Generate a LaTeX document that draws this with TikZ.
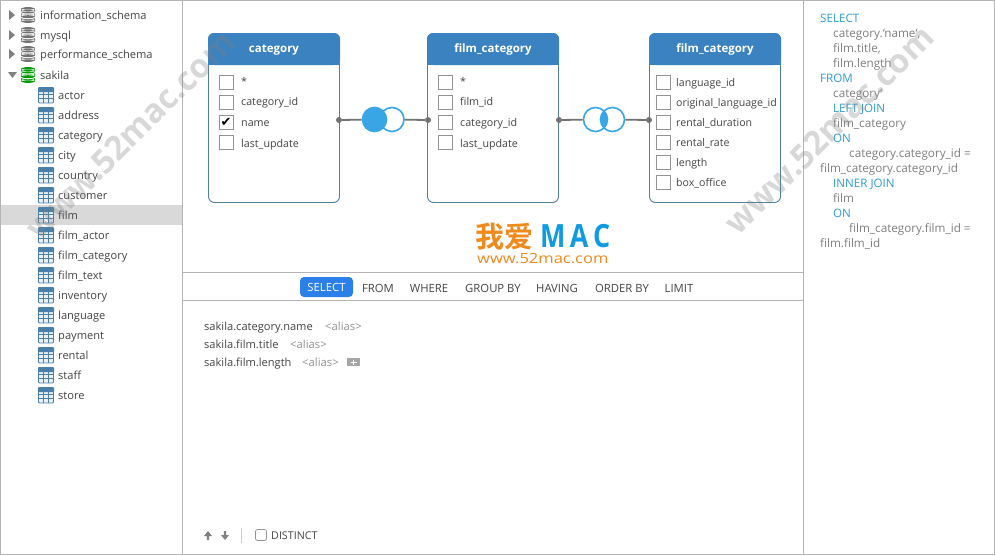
\documentclass[tikz,border=0pt]{standalone}
\usepackage{fontspec}
\setmainfont{Open Sans}
\newfontfamily\cjk{Noto Sans CJK SC}[BoldFont={* Bold}]
\newfontfamily\symb{DejaVu Sans}
\usetikzlibrary{positioning}
\definecolor{panelline}{HTML}{B4B4B4}
\definecolor{inktext}{HTML}{444444}
\definecolor{headblue}{HTML}{3A82C0}
\definecolor{boxedge}{HTML}{4F8199}
\definecolor{joinblue}{HTML}{38A5E4}
\definecolor{sqlblue}{HTML}{2F9BD0}
\definecolor{sqlgray}{HTML}{808080}
\definecolor{iconblue}{HTML}{4A80A8}
\definecolor{logoorange}{HTML}{EE8A1E}
\definecolor{logoblue}{HTML}{0F9BE0}
\definecolor{btnblue}{HTML}{2A7FE8}
\tikzset{
  txt/.style={inner sep=0pt,anchor=base west,text=inktext,font=\fontsize{11.1}{13}\selectfont},
  col/.style={txt,font=\fontsize{10.7}{13}\selectfont},
  sqlword/.style={txt,text=sqlblue,font=\fontsize{11.6}{13}\selectfont},
  sqlplain/.style={txt,text=sqlgray,font=\fontsize{11.7}{13}\selectfont},
  alias/.style={txt,text=gray!85,font=\fontsize{11.3}{13}\selectfont},
  clause/.style={inner sep=0pt,anchor=base,text=inktext,font=\fontsize{11.3}{13}\selectfont},
  tablebox/.style={draw=boxedge,fill=white,rounded corners=6pt,line width=0.9pt},
  tablehead/.style={inner sep=0pt,anchor=base,text=white,font=\fontsize{11.5}{13}\selectfont\bfseries},
  tick/.style={draw=gray!85,fill=white,minimum size=14pt,inner sep=0pt,line width=0.7pt},
  pin/.style={circle,fill=gray!90!black,inner sep=0pt,minimum size=6pt},
  venn/.style={circle,draw=joinblue,fill=white,line width=1.6pt,minimum size=24pt,inner sep=0pt},
  joinline/.style={line width=1.8pt,draw=gray!90!black},
  mark52/.style={inner sep=0pt,rotate=45,text=gray,text opacity=0.3,font=\fontsize{33}{36}\selectfont\bfseries},
  dbicon/.pic={
    \foreach \k in {4.7,0,-4.7}{
      \fill[white] (0,\k+1.2) ellipse (7.8 and 3.1);
      \fill[pic actions] (-7,\k-1.2) rectangle (7,\k+1.2) (0,\k+1.2) ellipse (7 and 2) (0,\k-1.2) ellipse (7 and 2);
    }
  },
  gridicon/.pic={
    \fill[iconblue!12] (-7.5,-7) rectangle (7.5,8);
    \fill[iconblue,rounded corners=1pt] (-8,-8) rectangle (8,-3);
    \draw[iconblue,line width=0.8pt,rounded corners=1pt] (-7.5,-7.5) rectangle (7.5,8);
    \draw[iconblue,line width=0.6pt] (-7.5,-0.5)--(7.5,-0.5) (-7.5,3.5)--(7.5,3.5) (-2.5,-3)--(-2.5,8) (2.5,-3)--(2.5,8);
  },
}
\begin{document}
\begin{tikzpicture}[x=1pt,y=-1pt]
\useasboundingbox (0,0) rectangle (995,555);
\fill[white] (0,0) rectangle (995,555);
% panels
\fill[gray!30] (1,205) rectangle (182,225);
\draw[panelline] (0.5,0.5) rectangle (994.5,554.5);
\draw[panelline] (182.5,0)--(182.5,555) (803.5,0)--(803.5,555);
\draw[panelline] (183,272.5)--(803,272.5) (183,300.5)--(803,300.5);
% schema tree
\foreach \nm/\yy/\col in {information_schema/15/gray!90!black,mysql/35/gray!90!black,performance_schema/54/gray!90!black,sakila/75/green!60!black}{
  \pic[fill=\col] at (28,\yy) {dbicon};
  \node[txt] (db-\nm) at (40,\yy+4) {\detokenize\expandafter{\nm}};
}
\foreach \yy in {15,35,54}
  \fill[gray] (9,\yy-5)--(15,\yy)--(9,\yy+5)--cycle;
\fill[gray] (8,72)--(17,72)--(12.5,78)--cycle;
\foreach \nm [count=\i from 0] in {actor,address,category,city,country,customer,film,film_actor,film_category,film_text,inventory,language,payment,rental,staff,store}{
  \pic at (46,95+20*\i) {gridicon};
  \node[txt] (tree\i) at (58,99+20*\i) {\detokenize\expandafter{\nm}};
}
% first table
\draw[tablebox] (208.5,33.5) rectangle (339.5,202.5);
\fill[headblue,rounded corners=6pt] (208,33)--(340,33)--(340,65)--(208,65)--cycle;
\fill[headblue] (208,50) rectangle (340,65);
\node[tablehead] (catHead) at (274,52) {category};
\foreach \nm/\yy/\ty [count=\i] in {*/82/85,category\_id/102/105,name/122/126,last\_update/142/147}{
  \node[tick] (catBox\i) at (226,\yy) {};
  \node[col] (catCol\i) at (241,\ty) {\nm};
}
\node[inner sep=0pt,font=\symb\fontsize{13}{13}\selectfont] (catCheck) at (226,122) {\char"2714};
% second table
\draw[tablebox] (427.5,33.5) rectangle (558.5,202.5);
\fill[headblue,rounded corners=6pt] (427,33)--(559,33)--(559,65)--(427,65)--cycle;
\fill[headblue] (427,50) rectangle (559,65);
\node[tablehead] (midHead) at (493,52) {film\_category};
\foreach \nm/\yy/\ty [count=\i] in {*/82/85,film\_id/102/105,category\_id/122/126,last\_update/142/147}{
  \node[tick] (midBox\i) at (445,\yy) {};
  \node[col] (midCol\i) at (460,\ty) {\nm};
}
% third table
\draw[tablebox] (649.5,33.5) rectangle (780.5,202.5);
\fill[headblue,rounded corners=6pt] (649,33)--(781,33)--(781,65)--(649,65)--cycle;
\fill[headblue] (649,50) rectangle (781,65);
\node[tablehead] (rightHead) at (715,52) {film\_category};
\foreach \nm/\yy [count=\i] in {language\_id/82,original\_language\_id/102,rental\_duration/122,rental\_rate/142,length/162,box\_office/182}{
  \node[tick] (rightBox\i) at (663,\yy) {};
  \node[txt,font=\fontsize{10.6}{13}\selectfont] (rightCol\i) at (676,\yy+4) {\nm};
}
% joins
\node[pin] (pinA) at (339,120) {};
\node[pin] (pinB) at (428,120) {};
\node[pin] (pinC) at (559,120) {};
\node[pin] (pinD) at (649,120) {};
\node[venn] (vennB) at (392,119.5) {};
\node[venn,fill=joinblue] (vennA) at (374.5,119.5) {};
\node[venn] (vennC) at (595.5,119.5) {};
\node[venn,fill=none] (vennD) at (612.5,119.5) {};
\begin{scope}
\clip (595.5,119.5) circle (12);
\fill[joinblue] (612.5,119.5) circle (12);
\end{scope}
\draw[joinline] (pinA)--(vennA);
\draw[joinline] (vennB)--(pinB);
\draw[joinline] (pinC)--(vennC);
\draw[joinline] (vennD)--(pinD);
% logo
\node[inner sep=0pt,anchor=base west,text=logoorange,font=\cjk\fontsize{29}{30}\selectfont\bfseries] (logoCn) at (475,247) {我爱};
\node[inner sep=0pt,anchor=base west,xscale=0.84,text=logoblue,font=\fontsize{32}{32}\selectfont\bfseries] (logoEn) at (540,247) {M\,A\,C};
\node[inner sep=0pt,anchor=base west,xscale=1.18,text=logoorange,font=\fontsize{14}{14}\selectfont] (logoUrl) at (477,263) {www.52mac.com};
% clause bar
\fill[btnblue,rounded corners=4pt] (300,277) rectangle (353,297);
\node[clause,text=white] (clSelect) at (326.5,291) {SELECT};
\foreach \nm/\xx [count=\i] in {FROM/378,WHERE/429,GROUP BY/493,HAVING/557,ORDER BY/622,LIMIT/679}
  \node[clause] (cl\i) at (\xx,292) {\nm};
% select list
\node[txt] (sel1) at (204,330) {sakila.category.name};
\node[txt] (sel2) at (204,348) {sakila.film.title};
\node[txt] (sel3) at (204,366) {sakila.film.length};
\node[alias] (alias1) at (325,330) {<alias>};
\node[alias] (alias2) at (290,348) {<alias>};
\node[alias] (alias3) at (302,366) {<alias>};
\fill[gray!70] (347,358) rectangle (360,366);
\draw[white,line width=1pt] (350.5,362)--(356.5,362) (353.5,359.5)--(353.5,364.5);
% bottom bar
\fill[gray] (208,531)--(212,536)--(209.2,536)--(209.2,540)--(206.8,540)--(206.8,536)--(204,536)--cycle;
\fill[gray] (225,540)--(221,535)--(223.8,535)--(223.8,531)--(226.2,531)--(226.2,535)--(229,535)--cycle;
\draw[gray!40] (241.5,528)--(241.5,543);
\draw[gray!85,rounded corners=2pt,line width=0.7pt] (255.5,529.5) rectangle (266.5,540.5);
\node[col] (distinct) at (271,539) {DISTINCT};
% sql text
\node[sqlword] (sql1) at (820,22) {SELECT};
\node[sqlplain] (sql2) at (833,37) {category.\char"60 name\char"60 ,};
\node[sqlplain] (sql3) at (833,52) {film.title,};
\node[sqlplain] (sql4) at (833,67) {film.length};
\node[sqlword] (sql5) at (820,82) {FROM};
\node[sqlplain] (sql6) at (833,97) {category\char"60};
\node[sqlword] (sql7) at (833,112) {LEFT JOIN};
\node[sqlplain] (sql8) at (833,127) {film\_category};
\node[sqlword] (sql9) at (833,142) {ON};
\node[sqlplain] (sql10) at (849,157) {category.category\_id =};
\node[sqlplain] (sql11) at (820,172) {film\_category.category\_id};
\node[sqlword] (sql12) at (833,187) {INNER JOIN};
\node[sqlplain] (sql13) at (833,202) {film};
\node[sqlword] (sql14) at (833,217) {ON};
\node[sqlplain] (sql15) at (849,232) {film\_category.film\_id =};
\node[sqlplain] (sql16) at (820,247) {film.film\_id};
% watermarks
\node[mark52] (markL) at (130,135) {www.52mac.com};
\node[mark52] (markR) at (829,130) {www.52mac.com};
\end{tikzpicture}
\end{document}
